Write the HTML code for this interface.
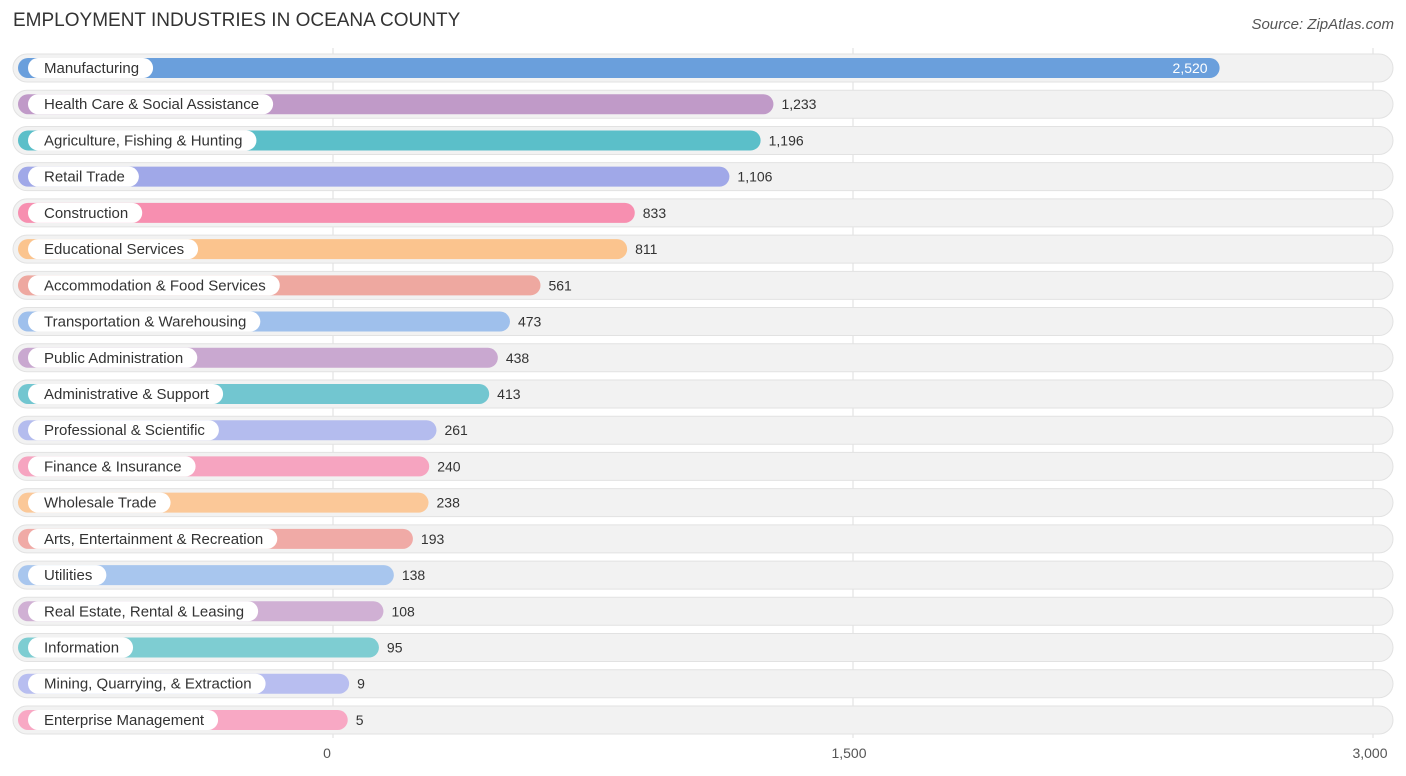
<!DOCTYPE html>
<html><head><meta charset="utf-8">
<style>
body{margin:0;background:#fff;font-family:"Liberation Sans",sans-serif;}
#wrap{position:relative;width:1406px;height:776px;overflow:hidden;}
.title{position:absolute;left:13px;top:10px;font-size:19px;color:#333;}
.src{position:absolute;right:12px;top:16px;font-size:15px;color:#555;font-style:italic;}
</style></head><body>
<div id="wrap">
<div class="title">EMPLOYMENT INDUSTRIES IN OCEANA COUNTY</div>
<div class="src">Source: ZipAtlas.com</div>
<svg id="svg" width="1406" height="776" style="position:absolute;left:0;top:0"></svg>
</div>
<script>
const categories=["Manufacturing","Health Care & Social Assistance","Agriculture, Fishing & Hunting","Retail Trade","Construction","Educational Services","Accommodation & Food Services","Transportation & Warehousing","Public Administration","Administrative & Support","Professional & Scientific","Finance & Insurance","Wholesale Trade","Arts, Entertainment & Recreation","Utilities","Real Estate, Rental & Leasing","Information","Mining, Quarrying, & Extraction","Enterprise Management"];
const values=[2520,1233,1196,1106,833,811,561,473,438,413,261,240,238,193,138,108,95,9,5];
const tickValues=[0,1500,3000];
const tickLabels=["0","1,500","3,000"];
const colors=["#6a9fdc","#c09ac8","#5bbfc9","#a0a8e8","#f78fb0","#fbc48e","#eea8a0","#9fc0ec","#c9a8d0","#72c6d0","#b4bcee","#f6a4c0","#fbc898","#f0aaa6","#a8c6ee","#d0b0d4","#7ecdd2","#b8bef0","#f8a8c4"];
const NS="http://www.w3.org/2000/svg";
const svg=document.getElementById('svg');
const x0=333,k=520/1500;
const xs=v=>x0+v*k;
const yRow=i=>68+i*36.22;
function el(t,a,p){const e=document.createElementNS(NS,t);for(const n in a)e.setAttribute(n,a[n]);(p||svg).appendChild(e);return e;}
tickValues.forEach((t,i)=>{
 const g=el('line',{x1:xs(t),x2:xs(t),y1:48,y2:738,stroke:'#ddd','stroke-width':1});
 
 
 const tx=el('text',{x:xs(t)+(i==2?-3:i==0?-6:-4),y:758,'font-size':14,fill:'#555','text-anchor':'middle'});
 tx.textContent=tickLabels[i];
 
 
});
categories.forEach((c,i)=>{
 const y=yRow(i);
 const bg=el('rect',{x:13,y:y-14,width:1380,height:28,rx:14,fill:'#f2f2f2',stroke:'#e2e2e2'});
 
 
 const end=xs(values[i])+13;
 const b=el('rect',{x:18,y:y-10,width:end-18,height:20,rx:10,fill:colors[i]});
 
 
 const lt=el('text',{x:44,y:y+5,'font-size':15,fill:'#333'});
 lt.textContent=c;
 const w=lt.getComputedTextLength();
 const pill=el('rect',{x:28,y:y-10,width:w+30,height:20,rx:10,fill:'#fff'});
 svg.insertBefore(pill,lt);
 
 
 
 
 const inside=i==0;
 const vt=el('text',{x:inside?end-12:end+8,y:y+5,'font-size':14,fill:inside?'#fff':'#333','text-anchor':inside?'end':'start'});
 vt.textContent=values[i].toLocaleString('en-US');
 
 
});
</script>
</body></html>
